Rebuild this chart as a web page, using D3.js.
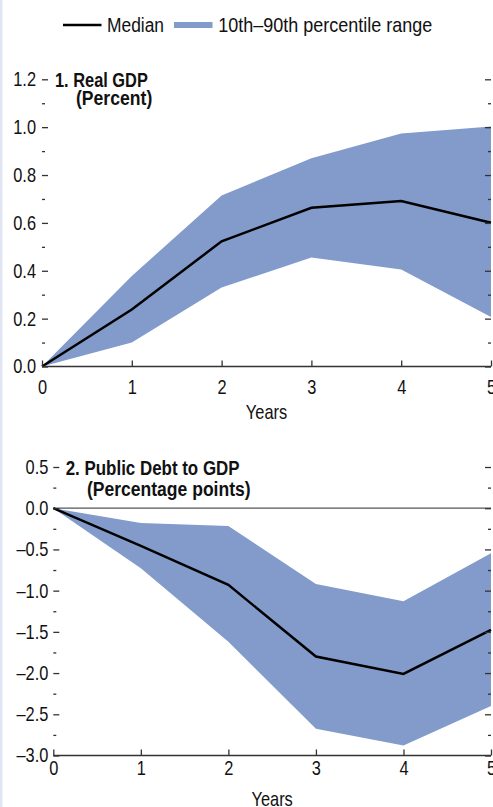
<!DOCTYPE html>
<html>
<head>
<meta charset="utf-8">
<script src="https://cdn.jsdelivr.net/npm/d3@7"></script>
<style>
  html, body { margin: 0; padding: 0; background: #fff; }
  svg { display: block; }
  text { font-family: "Liberation Sans", Arial, sans-serif; fill: #111; }
</style>
</head>
<body>
<svg id="chart" width="493" height="807"></svg>
<script>
// ---------- data ----------
const years = [0, 1, 2, 3, 4, 5];

const gdpMedian = [0, 0.238, 0.523, 0.663, 0.691, 0.601];
const gdpP90    = [0, 0.378, 0.715, 0.870, 0.974, 1.003];
const gdpP10    = [0, 0.100, 0.330, 0.455, 0.405, 0.207];

const debtMedian = [0, -0.457, -0.930, -1.800, -2.010, -1.475];
const debtP90    = [0, -0.180, -0.215, -0.920, -1.130, -0.545];
const debtP10    = [0, -0.727, -1.620, -2.675, -2.880, -2.400];

const gdpTicks  = [0, 0.2, 0.4, 0.6, 0.8, 1.0, 1.2];
const gdpMinor  = [0.1, 0.3, 0.5, 0.7, 0.9, 1.1];
const debtTicks = [0.5, 0, -0.5, -1.0, -1.5, -2.0, -2.5, -3.0];
const debtMinor = [0.25, -0.25, -0.75, -1.25, -1.75, -2.25, -2.75];

const legendLabels = ["Median", "10th\u201390th percentile range"];
const panelTitles = [["1. Real GDP", "(Percent)"], ["2. Public Debt to GDP", "(Percentage points)"]];
const xTitle = "Years";

// ---------- styles ----------
const FILL = "#829bcb";
const AXIS = "#333";
const FS = 20;

const svg = d3.select("#chart");

// left border stripe
svg.append("rect").attr("x", 0).attr("y", 0).attr("width", 2.5).attr("height", 807).attr("fill", "#dfe5f4");

// ---------- legend ----------
const lg = svg.append("g");
lg.append("line").attr("x1", 63).attr("x2", 101.5).attr("y1", 25).attr("y2", 25)
  .attr("stroke", "#000").attr("stroke-width", 2.5);
lg.append("text").attr("x", 107).attr("y", 31.7).attr("font-size", FS).attr("data-sx", 0.87).text(legendLabels[0]);
lg.append("rect").attr("x", 174).attr("y", 22).attr("width", 38.5).attr("height", 6).attr("fill", FILL);
lg.append("text").attr("x", 218.3).attr("y", 31.7).attr("font-size", FS).attr("data-sx", 0.9).text(legendLabels[1]);

function fmt(v) {
  const s = d3.format(".1f")(Math.abs(v));
  return (v < 0 ? "\u2013" : "") + s;
}

function panel(opts) {
  const x = d3.scaleLinear().domain([0, 5]).range([opts.x0, 491]);
  const y = d3.scaleLinear().domain(opts.yDomain).range(opts.yRange);
  const g = svg.append("g");

  // band
  const area = d3.area()
    .x((d, i) => x(years[i]))
    .y0((d, i) => y(opts.lo[i]))
    .y1((d, i) => y(opts.hi[i]));
  g.append("path").datum(years).attr("d", area).attr("fill", FILL);

  // zero line (panel 2)
  if (opts.zeroLine) {
    g.append("line").attr("x1", x(0)).attr("x2", x(5)).attr("y1", y(0)).attr("y2", y(0))
      .attr("stroke", "#555").attr("stroke-width", 1.2);
  }

  // median
  const line = d3.line().x((d, i) => x(years[i])).y((d, i) => y(opts.med[i]));
  g.append("path").datum(years).attr("d", line).attr("fill", "none")
    .attr("stroke", "#000").attr("stroke-width", 2.5).attr("stroke-linejoin", "miter");

  // left axis (major, inward ticks)
  const la = g.append("g").attr("transform", `translate(${x(0)},0)`)
    .call(d3.axisLeft(y).tickValues(opts.ticks).tickSize(-6).tickPadding(opts.labelPad).tickFormat(fmt));
  la.select(".domain").remove();
  la.selectAll("line").attr("stroke", AXIS).attr("stroke-width", 1.3);
  la.selectAll("text").attr("font-size", FS).attr("fill", "#111").attr("font-family", null);

  const lm = g.append("g").attr("transform", `translate(${x(0)},0)`)
    .call(d3.axisLeft(y).tickValues(opts.minor).tickSize(-3).tickFormat(""));
  lm.select(".domain").remove();
  lm.selectAll("line").attr("stroke", AXIS).attr("stroke-width", 1.3);

  // right axis ticks
  const ra = g.append("g").attr("transform", `translate(${x(5)},0)`)
    .call(d3.axisRight(y).tickValues(opts.ticks).tickSize(-6).tickFormat(""));
  ra.select(".domain").remove();
  ra.selectAll("line").attr("stroke", AXIS).attr("stroke-width", 1.3);
  const rm = g.append("g").attr("transform", `translate(${x(5)},0)`)
    .call(d3.axisRight(y).tickValues(opts.minor).tickSize(-3).tickFormat(""));
  rm.select(".domain").remove();
  rm.selectAll("line").attr("stroke", AXIS).attr("stroke-width", 1.3);

  // bottom axis
  const ba = g.append("g").attr("transform", `translate(0,${opts.yRange[0]})`)
    .call(d3.axisBottom(x).tickValues(years).tickSize(-6).tickPadding(opts.xPad).tickFormat(d3.format("d")));
  ba.select(".domain").attr("stroke", AXIS).attr("stroke-width", 1.3).attr("d", `M${x(0)},0H${x(5)}`);
  ba.selectAll("line").attr("stroke", AXIS).attr("stroke-width", 1.3);
  ba.selectAll("text").attr("font-size", FS).attr("fill", "#111").attr("font-family", null);

  // x title
  g.append("text").attr("x", (x(0) + x(5)) / 2).attr("y", opts.xTitleY).attr("text-anchor", "middle")
    .attr("font-size", FS).text(xTitle);

  // panel titles
  g.append("text").attr("x", opts.t1[0]).attr("y", opts.t1[1]).attr("font-size", FS)
    .attr("font-weight", "bold").attr("data-sx", opts.tsx[0]).text(opts.title[0]);
  g.append("text").attr("x", opts.t2[0]).attr("y", opts.t2[1]).attr("font-size", FS)
    .attr("font-weight", "bold").attr("data-sx", opts.tsx[1]).text(opts.title[1]);
}

panel({
  x0: 42, yDomain: [0, 1.2], yRange: [366.5, 79.3],
  lo: gdpP10, hi: gdpP90, med: gdpMedian,
  ticks: gdpTicks, minor: gdpMinor, labelPad: 6, xPad: 13,
  xTitleY: 419, title: panelTitles[0], t1: [55, 86.7], t2: [76, 105.5], tsx: [0.82, 0.88]
});

panel({
  x0: 53.3, yDomain: [-3, 0.5], yRange: [755.5, 467],
  lo: debtP10, hi: debtP90, med: debtMedian, zeroLine: true,
  ticks: debtTicks, minor: debtMinor, labelPad: 5, xPad: 5,
  xTitleY: 806, title: panelTitles[1], t1: [65.7, 475], t2: [87, 496], tsx: [0.846, 0.877]
});

// condense all text horizontally (narrow font look), anchored at each text's x
svg.selectAll("text").each(function () {
  const t = d3.select(this);
  const sx = +t.attr("data-sx") || 0.82;
  const x0 = +t.attr("x") || 0;
  t.attr("transform", `translate(${x0},0) scale(${sx},1) translate(${-x0},0)`);
});
</script>
</body>
</html>
